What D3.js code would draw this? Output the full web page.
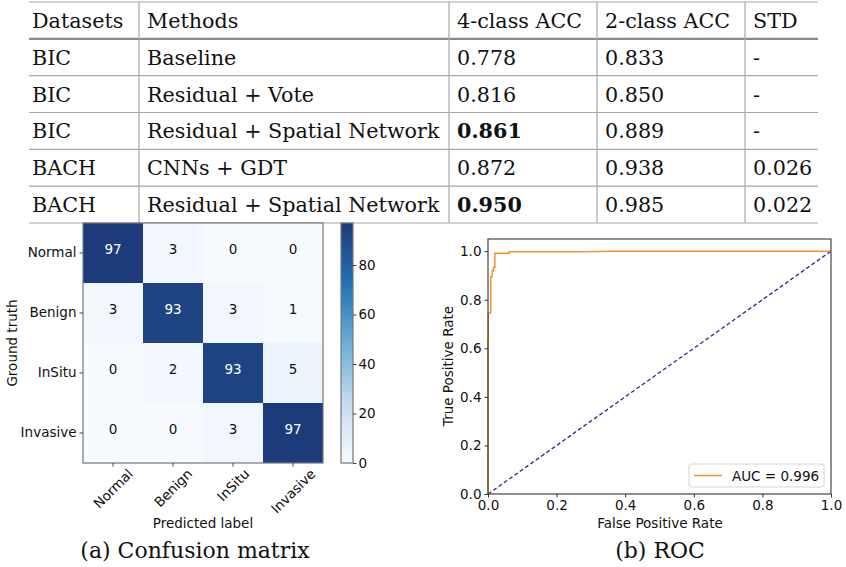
<!DOCTYPE html>
<html>
<head>
<meta charset="utf-8">
<script src="https://cdn.jsdelivr.net/npm/d3@7"></script>
<style>
  body { margin: 0; background: #fff; }
  svg { display: block; }
</style>
</head>
<body>
<div id="fig"></div>
<script>
// table data
const headers = ["Datasets", "Methods", "4-class ACC", "2-class ACC", "STD"]
const datasets = ["BIC", "BIC", "BIC", "BACH", "BACH"]
const methods = ["Baseline", "Residual + Vote", "Residual + Spatial Network", "CNNs + GDT", "Residual + Spatial Network"]
const acc4 = ["0.778", "0.816", "0.861", "0.872", "0.950"]
const acc2 = ["0.833", "0.850", "0.889", "0.938", "0.985"]
const std = ["-", "-", "-", "0.026", "0.022"]
const bestAcc4 = ["0.861", "0.950"]

// confusion matrix
const classes = ["Normal", "Benign", "InSitu", "Invasive"]
const confusion = [
    [97, 3, 0, 0],
    [3, 93, 3, 1],
    [0, 2, 93, 5],
    [0, 0, 3, 97]
]
const cbarTicks = [0, 20, 40, 60, 80]

// roc
const fpr = [0, 0, 0.001, 0.001, 0.008, 0.008, 0.012, 0.012, 0.016, 0.016, 0.02, 0.02, 0.062, 0.062, 0.28, 0.36, 1.0]
const tpr = [0, 0.64, 0.64, 0.745, 0.745, 0.895, 0.895, 0.919, 0.919, 0.933, 0.933, 0.991, 0.991, 0.997, 0.997, 1.0, 1.0]
const rocTicks = [0, 0.2, 0.4, 0.6, 0.8, 1.0]
const aucLabel = "AUC = 0.996"

const width = 846, height = 567
const svg = d3.select("#fig").append("svg").attr("width", width).attr("height", height)

const serif = "'DejaVu Serif', serif"
const sans = "'DejaVu Sans', sans-serif"

// ---------- table ----------
const colEdges = [29, 139, 449, 597, 745, 818]
const rowScale = d3.scaleBand().domain(d3.range(6)).range([2, 223])
const tbl = svg.append("g")

const rows = [headers].concat(datasets.map((d, i) => [d, methods[i], acc4[i], acc2[i], std[i]]))

// horizontal rules
tbl.selectAll(".hrule").data(d3.range(7)).enter().append("line")
    .attr("x1", colEdges[0]).attr("x2", colEdges[5])
    .attr("y1", i => i < 6 ? rowScale(i) : rowScale(5) + rowScale.bandwidth())
    .attr("y2", i => i < 6 ? rowScale(i) : rowScale(5) + rowScale.bandwidth())
    .attr("stroke", i => i == 1 ? "#8a8a8a" : "#a8a8a8")
    .attr("stroke-width", i => i == 1 ? 2.2 : 1.2)

// vertical rules
tbl.selectAll(".vrule").data(colEdges.slice(1, 5)).enter().append("line")
    .attr("x1", d => d).attr("x2", d => d)
    .attr("y1", rowScale(0)).attr("y2", rowScale(5) + rowScale.bandwidth())
    .attr("stroke", "#a8a8a8").attr("stroke-width", 1.2)

rows.forEach((r, i) => {
    tbl.selectAll(".cell" + i).data(r).enter().append("text")
        .attr("x", (d, j) => colEdges[j] + (j == 0 ? 3 : 8))
        .attr("y", rowScale(i) + rowScale.bandwidth() / 2 + 7.5)
        .attr("font-family", serif)
        .attr("font-size", 20.7)
        .attr("font-weight", (d, j) => (i > 0 && j == 2 && bestAcc4.includes(d)) ? "bold" : "normal")
        .attr("fill", "#111")
        .text(d => d)
})

// ---------- confusion matrix ----------
const cm = svg.append("g")
const cx = d3.scaleBand().domain(classes).range([83, 323])
const cy = d3.scaleBand().domain(classes).range([223, 463])
const vmax = d3.max(confusion.flat())
const blues = d3.scaleLinear()
    .domain([0, 0.25, 0.5, 0.75, 1].map(t => t * vmax))
    .range(["#f7fbff", "#c6dbef", "#6baed6", "#2171b5", "#1d3b7a"])

const cells = []
confusion.forEach((row, i) => row.forEach((v, j) => cells.push({ r: classes[i], c: classes[j], v })))

cm.selectAll("rect.cell").data(cells).enter().append("rect")
    .attr("x", d => cx(d.c)).attr("y", d => cy(d.r))
    .attr("width", cx.bandwidth()).attr("height", cy.bandwidth())
    .attr("fill", d => blues(d.v))

cm.selectAll("text.val").data(cells).enter().append("text")
    .attr("x", d => cx(d.c) + cx.bandwidth() / 2)
    .attr("y", d => cy(d.r) + cy.bandwidth() / 2 - 3)
    .attr("text-anchor", "middle").attr("dominant-baseline", "middle")
    .attr("font-family", sans).attr("font-size", 13.5)
    .attr("fill", d => d.v > vmax / 2 ? "#fff" : "#111")
    .text(d => d.v)

cm.append("rect").attr("x", 83).attr("y", 223).attr("width", 240).attr("height", 240)
    .attr("fill", "none").attr("stroke", "#777").attr("stroke-width", 1.2)

const cmLeft = cm.append("g").attr("transform", "translate(83,0)")
    .call(d3.axisLeft(cy).tickSize(3.5).tickPadding(3))
const cmBottom = cm.append("g").attr("transform", "translate(0,463)")
    .call(d3.axisBottom(cx).tickSize(3.5).tickPadding(3))
;[cmLeft, cmBottom].forEach(g => {
    g.select(".domain").remove()
    g.selectAll("line").attr("stroke", "#444")
    g.selectAll("text").attr("font-family", sans).attr("font-size", 13.5).attr("fill", "#111")
})
// rotated labels centred on the tick (matplotlib ha="center", rotation=45)
cmBottom.selectAll("text").each(function () {
    const t = d3.select(this)
    const w = this.getComputedTextLength()
    const cyLab = 4 + (w + 12) * 0.3536
    t.attr("y", null).attr("dy", null)
        .attr("text-anchor", "middle").attr("dominant-baseline", "central")
        .attr("transform", `translate(0,${cyLab}) rotate(-45)`)
})

cm.append("text").attr("x", 203).attr("y", 528).attr("text-anchor", "middle")
    .attr("font-family", sans).attr("font-size", 13.5).attr("fill", "#111").text("Predicted label")
cm.append("text").attr("transform", "translate(17,343) rotate(-90)").attr("text-anchor", "middle")
    .attr("font-family", sans).attr("font-size", 13.5).attr("fill", "#111").text("Ground truth")

// colorbar
const cbScale = d3.scaleLinear().domain([0, vmax]).range([463, 223])
const defs = svg.append("defs")
const grad = defs.append("linearGradient").attr("id", "cbgrad")
    .attr("x1", 0).attr("y1", 1).attr("x2", 0).attr("y2", 0)
grad.selectAll("stop").data(d3.range(0, 1.01, 0.05)).enter().append("stop")
    .attr("offset", d => d).attr("stop-color", d => blues(d * vmax))
cm.append("rect").attr("x", 341).attr("y", 223).attr("width", 12).attr("height", 240)
    .attr("fill", "url(#cbgrad)").attr("stroke", "#777").attr("stroke-width", 1.2)
const cbAxis = cm.append("g").attr("transform", "translate(353,0)")
    .call(d3.axisRight(cbScale).tickValues(cbarTicks).tickSize(3.5).tickPadding(2))
cbAxis.select(".domain").remove()
cbAxis.selectAll("line").attr("stroke", "#444")
cbAxis.selectAll("text").attr("font-family", sans).attr("font-size", 13.5).attr("fill", "#111")

// ---------- ROC ----------
const roc = svg.append("g")
const rx = d3.scaleLinear().domain([0, 1]).range([488, 831])
const ry = d3.scaleLinear().domain([0, 1.05]).range([494, 239])

roc.append("line")
    .attr("x1", rx(0)).attr("y1", ry(0)).attr("x2", rx(1)).attr("y2", ry(1))
    .attr("stroke", "#2a2a8c").attr("stroke-width", 1.3).attr("stroke-dasharray", "4,2.5")

roc.append("path")
    .datum(fpr.map((f, i) => [f, tpr[i]]))
    .attr("d", d3.line().x(d => rx(d[0])).y(d => ry(d[1])))
    .attr("fill", "none").attr("stroke", "#f8922a").attr("stroke-width", 1.5)

roc.append("rect").attr("x", 488).attr("y", 239).attr("width", 343).attr("height", 255)
    .attr("fill", "none").attr("stroke", "#333").attr("stroke-width", 1.1)

const rocLeft = roc.append("g").attr("transform", "translate(488,0)")
    .call(d3.axisLeft(ry).tickValues(rocTicks).tickFormat(d3.format(".1f")).tickSize(3.5).tickPadding(3))
const rocBottom = roc.append("g").attr("transform", "translate(0,494)")
    .call(d3.axisBottom(rx).tickValues(rocTicks).tickFormat(d3.format(".1f")).tickSize(3.5).tickPadding(3))
;[rocLeft, rocBottom].forEach(g => {
    g.select(".domain").remove()
    g.selectAll("line").attr("stroke", "#333")
    g.selectAll("text").attr("font-family", sans).attr("font-size", 13.5).attr("fill", "#111")
})

roc.append("text").attr("x", 660).attr("y", 528).attr("text-anchor", "middle")
    .attr("font-family", sans).attr("font-size", 13.5).attr("fill", "#111").text("False Positive Rate")
roc.append("text").attr("transform", "translate(453,366) rotate(-90)").attr("text-anchor", "middle")
    .attr("font-family", sans).attr("font-size", 13.5).attr("fill", "#111").text("True Positive Rate")

// legend
const leg = roc.append("g")
leg.append("rect").attr("x", 689).attr("y", 464).attr("width", 135).attr("height", 23).attr("rx", 2)
    .attr("fill", "#fff").attr("fill-opacity", 0.8).attr("stroke", "#d6d6d6")
leg.append("line").attr("x1", 694).attr("x2", 722).attr("y1", 475.5).attr("y2", 475.5)
    .attr("stroke", "#f8922a").attr("stroke-width", 1.5)
leg.append("text").attr("x", 732).attr("y", 480.5).attr("font-family", sans).attr("font-size", 13.5)
    .attr("fill", "#111").text(aucLabel)

// captions
svg.append("text").attr("x", 195).attr("y", 558).attr("text-anchor", "middle")
    .attr("font-family", serif).attr("font-size", 22).attr("fill", "#111").text("(a) Confusion matrix")
svg.append("text").attr("x", 660).attr("y", 558).attr("text-anchor", "middle")
    .attr("font-family", serif).attr("font-size", 22).attr("fill", "#111").text("(b) ROC")
</script>
</body>
</html>
